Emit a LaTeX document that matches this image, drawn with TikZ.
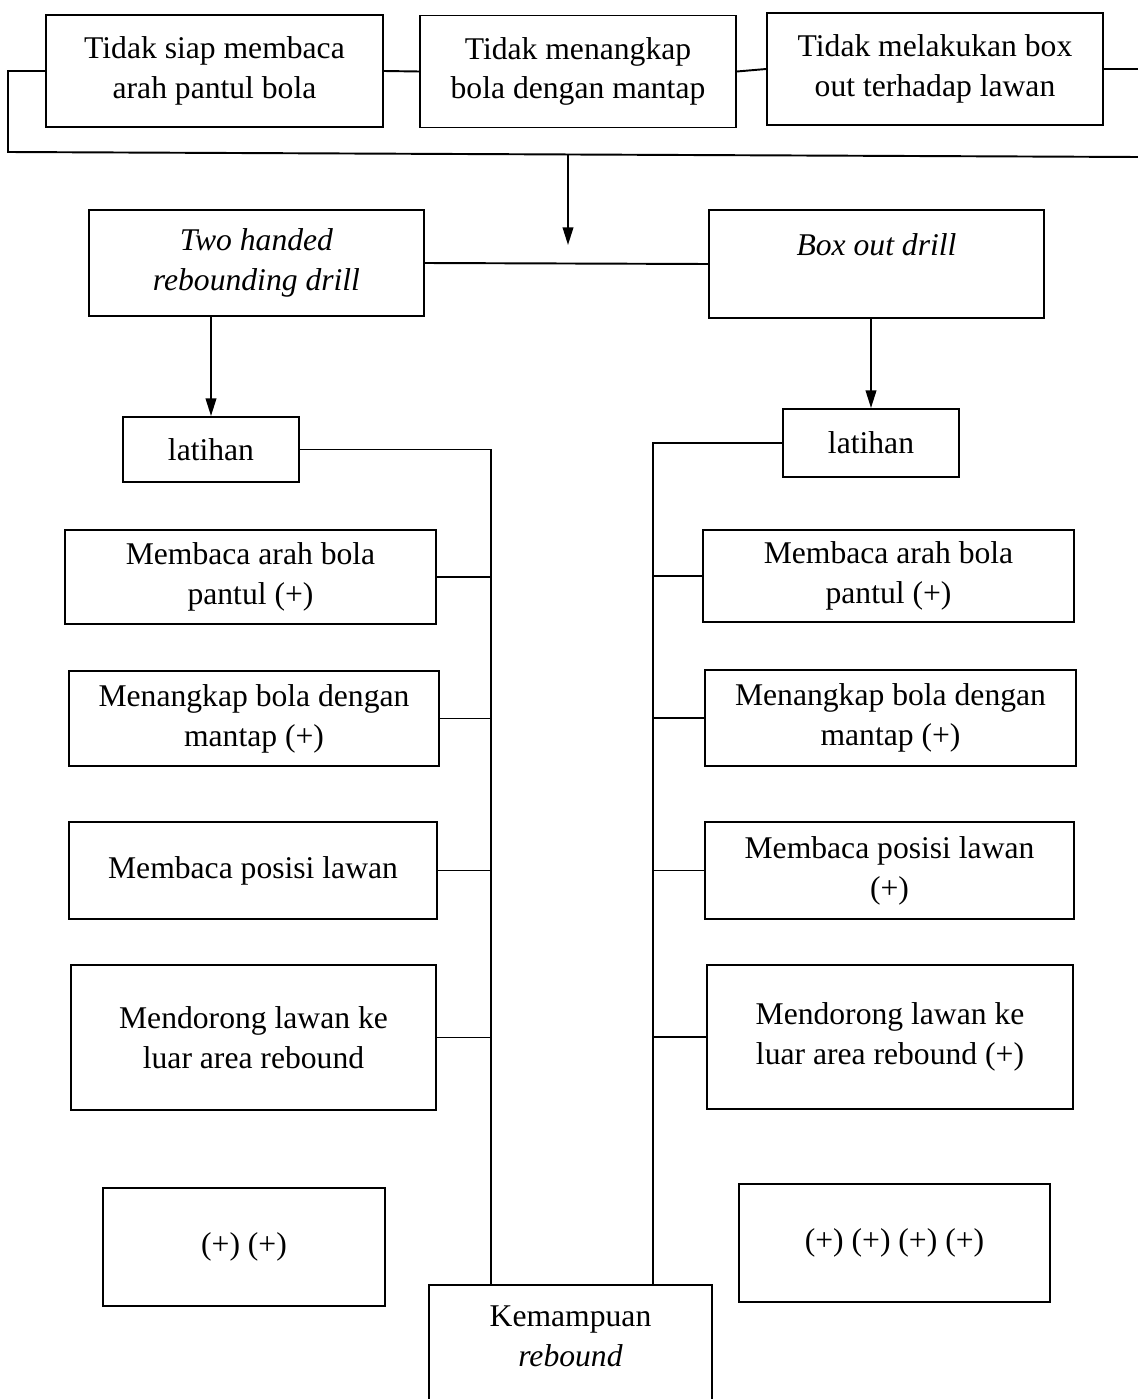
\documentclass[tikz,border=0pt]{standalone}
\usepackage{fontspec}
\setmainfont{Liberation Serif}
\usepackage{tikz}
\usetikzlibrary{positioning, arrows, arrows.meta}

\tikzset{
  box/.style={draw, line width=1.1pt, align=center, inner sep=0pt,
    font=\fontsize{18}{22.7}\selectfont},
  link/.style={line width=1.1pt},
  arr/.style={line width=1.1pt, -{Triangle[length=10pt,width=6pt]}}
}

\begin{document}
\begin{tikzpicture}[x=0.02cm, y=-0.02cm]
\useasboundingbox (0,0) rectangle (1138,1399);

% masalah
\node[box, minimum width=6.74cm, minimum height=2.24cm] (A) at (214.5,71) {Tidak siap membaca\\arah pantul bola};
\node[box, minimum width=6.32cm, minimum height=2.24cm] (B) at (578,71.5) {Tidak menangkap\\bola dengan mantap};
\node[box, minimum width=6.72cm, minimum height=2.24cm] (C) at (935,69) {Tidak melakukan box\\out terhadap lawan};

\coordinate (busL) at (8,152);
\coordinate (busR) at (1138,157);
\coordinate (busM) at (568,155);
\coordinate (tip) at (568,245);

\draw[link] (A.west) -| (busL) -- (busR);
\draw[link] (A.east) -- (B.west);
\draw[link] (B.east) -- (C.west);
\draw[link] (C.east) -- (C.east -| busR);
\draw[arr] (busM) -- (tip);

% drill
\node[box, minimum width=6.70cm, minimum height=2.12cm] (D) at (256.5,263) {\textit{Two handed}\\\textit{rebounding drill}};
\node[box, minimum width=6.70cm, minimum height=2.16cm] (E) at (876.5,264) {\textit{Box out drill}\\~};
\draw[link] (D.east) -- (E.west);

\node[box, minimum width=3.52cm, minimum height=1.30cm] (latL) at (211,449.5) {latihan};
\node[box, minimum width=3.52cm, minimum height=1.36cm] (latR) at (871,443) {latihan};
\draw[arr] (D.south -| latL.north) -- (latL.north);
\draw[arr] (E.south -| latR.north) -- (latR.north);

% kolom kiri
\node[box, minimum width=7.42cm, minimum height=1.88cm] (L1) at (250.5,577) {Membaca arah bola\\pantul (+)};
\node[box, minimum width=7.40cm, minimum height=1.90cm] (L2) at (254,718.5) {Menangkap bola dengan\\mantap (+)};
\node[box, minimum width=7.36cm, minimum height=1.94cm] (L3) at (253,870.5) {Membaca posisi lawan};
\node[box, minimum width=7.30cm, minimum height=2.90cm] (L4) at (253.5,1037.5) {Mendorong lawan ke\\luar area rebound};

% kolom kanan
\node[box, minimum width=7.42cm, minimum height=1.84cm] (R1) at (888.5,576) {Membaca arah bola\\pantul (+)};
\node[box, minimum width=7.42cm, minimum height=1.92cm] (R2) at (890.5,718) {Menangkap bola dengan\\mantap (+)};
\node[box, minimum width=7.38cm, minimum height=1.94cm] (R3) at (889.5,870.5) {Membaca posisi lawan\\(+)};
\node[box, minimum width=7.32cm, minimum height=2.88cm] (R4) at (890,1037) {Mendorong lawan ke\\luar area rebound (+)};

% hasil
\node[box, minimum width=5.64cm, minimum height=2.36cm] (P1) at (244,1247) {(+) (+)};
\node[box, minimum width=6.22cm, minimum height=2.36cm] (P2) at (894.5,1243) {(+) (+) (+) (+)};
\node[box, minimum width=5.66cm, minimum height=2.84cm] (K) at (570.5,1356) {Kemampuan\\\textit{rebound}\\~};

\coordinate (jL) at (491,449.5);
\coordinate (jR) at (653,443);
\draw[link] (latL.east) -- (jL) -- (jL |- K.north);
\draw[link] (latR.west) -- (jR) -- (jR |- K.north);
\foreach \n in {L1,L2,L3,L4}
  \draw[link] (\n.east) -- (\n.east -| jL);
\foreach \n in {R1,R2,R3,R4}
  \draw[link] (\n.west) -- (\n.west -| jR);
\end{tikzpicture}
\end{document}
